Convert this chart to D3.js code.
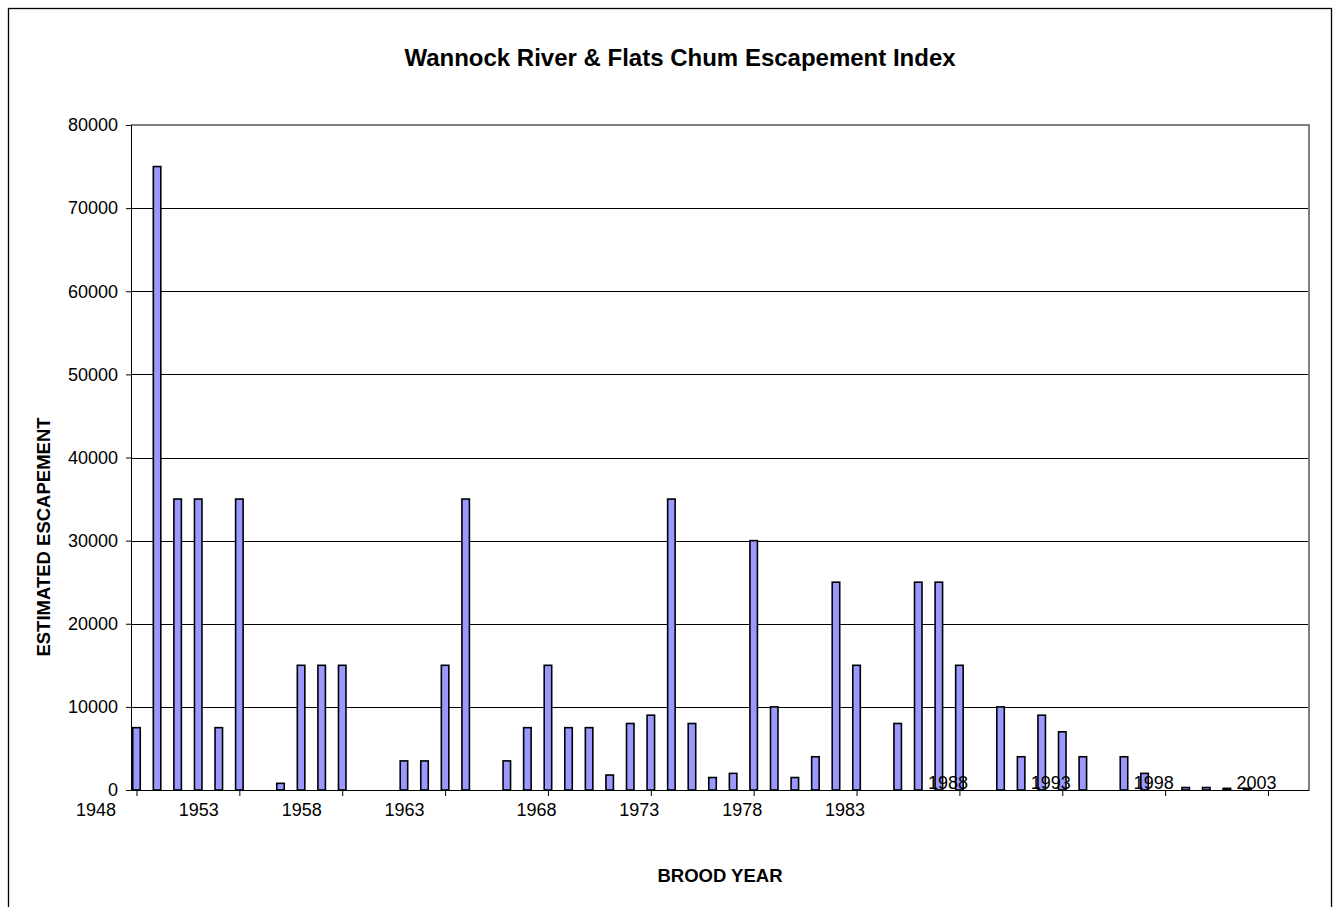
<!DOCTYPE html>
<html>
<head>
<meta charset="utf-8">
<script src="https://cdn.jsdelivr.net/npm/d3@7"></script>
<style>
  body { margin: 0; background: #fff; }
  text { font-family: Arial, "Liberation Sans", sans-serif; }
</style>
</head>
<body>
<div id="chart"></div>
<script>
// data
const years = [1948, 1949, 1950, 1951, 1952, 1953, 1955, 1956, 1957, 1958,
    1961, 1962, 1963, 1964, 1966, 1967, 1968, 1969, 1970, 1971,
    1972, 1973, 1974, 1975, 1976, 1977, 1978, 1979, 1980, 1981,
    1982, 1983, 1985, 1986, 1987, 1988, 1990, 1991, 1992, 1993,
    1994, 1996, 1997, 1999, 2000, 2001, 2002];
const escapement = [7500, 75000, 35000, 35000, 7500, 35000, 800, 15000, 15000, 15000,
    3500, 3500, 15000, 35000, 3500, 7500, 15000, 7500, 7500, 1800,
    8000, 9000, 35000, 8000, 1500, 2000, 30000, 10000, 1500, 4000,
    25000, 15000, 8000, 25000, 25000, 15000, 10000, 4000, 9000, 7000,
    4000, 4000, 2000, 300, 300, 200, 200];
const xTickYears = [1948, 1953, 1958, 1963, 1968, 1973, 1978, 1983, 1988, 1993, 1998, 2003];
const yTicks = [0, 10000, 20000, 30000, 40000, 50000, 60000, 70000, 80000];

const data = years.map((y, i) => ({year: y, value: escapement[i]}));

// set the dimensions and margins of the graph
const W = 1333, H = 907;
const margin = {top: 125, right: 24, bottom: 117, left: 131},
    width = W - margin.left - margin.right,
    height = H - margin.top - margin.bottom;

const svg = d3.select("#chart")
    .append("svg")
        .attr("width", W)
        .attr("height", H);

// outer chart frame
svg.append("rect")
    .attr("x", 8.5)
    .attr("y", 8.5)
    .attr("width", 1323)
    .attr("height", 930)
    .attr("fill", "none")
    .attr("stroke", "#000")
    .attr("stroke-width", 1.3);

const g = svg.append("g")
    .attr("transform", `translate(${margin.left}, ${margin.top})`);

const x = d3.scaleLinear()
    .domain([1947.733, 2004.993])
    .range([0, width]);

const y = d3.scaleLinear()
    .domain([0, 80000])
    .range([height, 0]);

// horizontal gridlines
g.selectAll(".grid")
    .data(yTicks.slice(1, -1))
    .join("line")
    .attr("x1", 0)
    .attr("x2", width)
    .attr("y1", d => Math.round(y(d)) + 0.5)
    .attr("y2", d => Math.round(y(d)) + 0.5)
    .attr("stroke", "#000")
    .attr("stroke-width", 1);

// plot area border (top / right)
g.append("path")
    .attr("d", `M0,0H${width}V${height}`)
    .attr("fill", "none")
    .attr("stroke", "#808080")
    .attr("stroke-width", 2);

// bars
const barW = 7.5;
g.selectAll(".bar")
    .data(data)
    .join("rect")
    .attr("x", d => x(d.year) - barW / 2)
    .attr("y", d => y(d.value))
    .attr("width", barW)
    .attr("height", d => height - y(d.value))
    .attr("fill", "#9999ff")
    .attr("stroke", "#000")
    .attr("stroke-width", 1.6);

// y axis
const yAxis = g.append("g")
    .call(d3.axisLeft(y).tickValues(yTicks).tickFormat(d3.format("d"))
        .tickSize(5).tickSizeOuter(0).tickPadding(8));
yAxis.select(".domain").attr("stroke", "#000");
yAxis.selectAll("text")
    .style("font-size", "18px")
    .attr("fill", "#000");

// x axis - labels are offset the way the original chart drew them
const xAxis = g.append("g")
    .attr("transform", `translate(0, ${height})`)
    .call(d3.axisBottom(x).tickValues(xTickYears).tickFormat(d3.format("d"))
        .tickSize(6).tickSizeOuter(0));
xAxis.select(".domain").attr("stroke", "#000");
xAxis.selectAll("text")
    .style("font-size", "18px")
    .attr("fill", "#000")
    .attr("x", d => d <= 1963 ? -41 : -12)
    .attr("y", d => d < 1988 ? 13 : -14);

// title
svg.append("text")
    .attr("x", 680)
    .attr("y", 66)
    .style("text-anchor", "middle")
    .style("font-size", "24px")
    .style("font-weight", "bold")
    .text("Wannock River & Flats Chum Escapement Index");

// y-axis label
svg.append("text")
    .attr("transform", "rotate(-90)")
    .attr("x", -537)
    .attr("y", 50)
    .style("text-anchor", "middle")
    .style("font-size", "18.5px")
    .style("font-weight", "bold")
    .text("ESTIMATED ESCAPEMENT");

// x-axis label
svg.append("text")
    .attr("x", 720)
    .attr("y", 882)
    .style("text-anchor", "middle")
    .style("font-size", "18.5px")
    .style("font-weight", "bold")
    .text("BROOD YEAR");
</script>
</body>
</html>
